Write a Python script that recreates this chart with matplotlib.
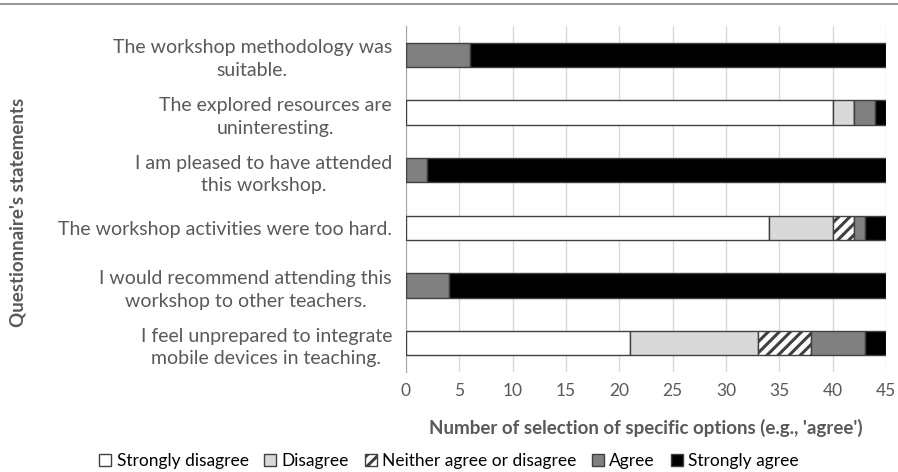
import matplotlib.pyplot as plt
from matplotlib.lines import Line2D

# Statements, top to bottom
statements = [
    "The workshop methodology was\nsuitable.",
    "The explored resources are\nuninteresting.",
    "I am pleased to have attended\nthis workshop.",
    "The workshop activities were too hard.",
    "I would recommend attending this\nworkshop to other teachers.",
    "I feel unprepared to integrate\nmobile devices in teaching.",
]
options = ["Strongly disagree", "Disagree", "Neither agree or disagree", "Agree", "Strongly agree"]

strongly_disagree = [0, 40, 0, 34, 0, 21]
disagree = [0, 2, 0, 6, 0, 12]
neutral = [0, 0, 0, 2, 0, 5]
agree = [6, 2, 2, 1, 4, 5]
strongly_agree = [39, 1, 43, 2, 41, 2]

series = [strongly_disagree, disagree, neutral, agree, strongly_agree]
colors = ["white", "#d9d9d9", "white", "#808080", "black"]
hatches = [None, None, "///", None, None]

plt.rcParams["font.family"] = ["Lato", "DejaVu Sans"]
plt.rcParams["hatch.linewidth"] = 2.2
text_color = "#595959"

fig = plt.figure(figsize=(8.98, 4.72), dpi=100)
ax = fig.add_axes([0.452, 0.212, 0.5346, 0.733])

ypos = list(range(len(statements)))
left = [0] * len(statements)
for vals, col, hat, name in zip(series, colors, hatches, options):
    ax.barh(ypos, vals, left=left, height=0.42, color=col, hatch=hat,
            edgecolor="#404040", linewidth=1.0, label=name, zorder=3)
    left = [a + b for a, b in zip(left, vals)]

ax.set_ylim(len(statements) - 0.5, -0.5)
ax.set_xlim(0, 45)
ax.set_xticks(range(0, 46, 5))
ax.set_yticks(ypos)
ax.set_yticklabels(statements, fontsize=14, color=text_color, ha="right",
                   multialignment="center", linespacing=1.4)
ax.tick_params(axis="y", length=0, pad=10)
ax.tick_params(axis="x", length=0, labelsize=12.5, labelcolor=text_color, pad=8)
ax.grid(axis="x", color="#d9d9d9", linewidth=1.0, zorder=0)

for side in ["top", "right", "bottom"]:
    ax.spines[side].set_visible(False)
ax.spines["left"].set_color("#a6a6a6")

ax.set_xlabel("Number of selection of specific options (e.g., 'agree')",
              fontsize=13.5, fontweight="bold", color=text_color, labelpad=14)
fig.text(0.02, 0.55, "Questionnaire's statements", rotation=90, fontsize=13.5,
         fontweight="bold", color=text_color, ha="center", va="center")

ax.legend(loc="center", bbox_to_anchor=(0.5, 0.023), bbox_transform=fig.transFigure,
          ncol=5, frameon=False, fontsize=12.5, handlelength=0.7, handleheight=0.7,
          handletextpad=0.3, columnspacing=0.9, labelcolor="black")

fig.add_artist(Line2D([0, 1], [1 - 4 / 472, 1 - 4 / 472], transform=fig.transFigure,
                      color="#808080", linewidth=1.2))

fig.savefig("out.png", dpi=100)
